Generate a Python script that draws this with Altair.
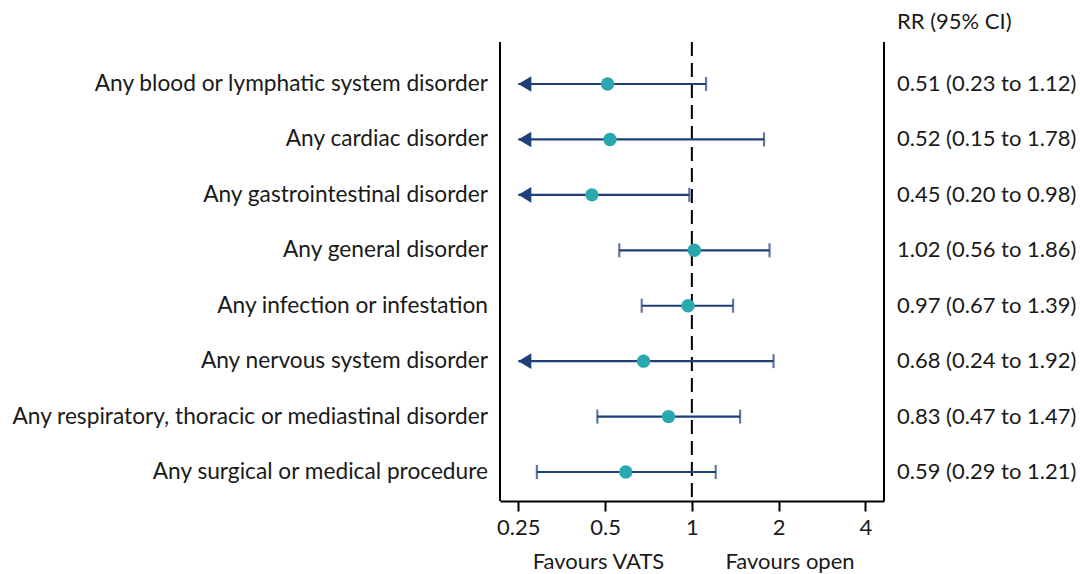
import altair as alt
import pandas as pd

labels = [
    "Any blood or lymphatic system disorder",
    "Any cardiac disorder",
    "Any gastrointestinal disorder",
    "Any general disorder",
    "Any infection or infestation",
    "Any nervous system disorder",
    "Any respiratory, thoracic or mediastinal disorder",
    "Any surgical or medical procedure",
]
rr = [0.51, 0.52, 0.45, 1.02, 0.97, 0.68, 0.83, 0.59]
lo = [0.23, 0.15, 0.20, 0.56, 0.67, 0.24, 0.47, 0.29]
hi = [1.12, 1.78, 0.98, 1.86, 1.39, 1.92, 1.47, 1.21]
rr_text = [
    "0.51 (0.23 to 1.12)",
    "0.52 (0.15 to 1.78)",
    "0.45 (0.20 to 0.98)",
    "1.02 (0.56 to 1.86)",
    "0.97 (0.67 to 1.39)",
    "0.68 (0.24 to 1.92)",
    "0.83 (0.47 to 1.47)",
    "0.59 (0.29 to 1.21)",
]
x_ticks = [0.25, 0.5, 1, 2, 4]
clip_at = 0.25

FONT = "Lato"
FS = 22
FS_LAB = 22.7
W, H = 384, 459
LINE = "#1f3f78"
DOT = "#2aa8b0"
TXT = "#1a1a1a"

df = pd.DataFrame({
    "row": list(range(1, len(labels) + 1)),
    "label": labels,
    "rr": rr,
    "lo": lo,
    "hi": hi,
    "txt": rr_text,
})
df["lo_draw"] = df["lo"].clip(lower=clip_at)
df["clipped"] = df["lo"] < clip_at

xs = alt.Scale(type="log", base=2, domain=[0.216, 4.64], nice=False, zero=False)
ys = alt.Scale(domain=[0.242, 8.523], reverse=True, nice=False, zero=False)

base = alt.Chart(df)
yenc = alt.Y("row:Q", scale=ys, axis=None)

ci = base.mark_rule(color=LINE, strokeWidth=2.2).encode(
    x=alt.X("lo_draw:Q", scale=xs,
            axis=alt.Axis(values=x_ticks, labelExpr="datum.value == 0.25 ? '0.25' : datum.value == 0.5 ? '0.5' : format(datum.value, 'd')",
                          title=None, grid=False, domain=True, domainColor="black", domainWidth=2,
                          ticks=True, tickColor="black", tickWidth=2, tickSize=10,
                          labelFont=FONT, labelFontSize=FS, labelColor=TXT, labelPadding=6)),
    x2="hi:Q",
    y=yenc,
)

cap_hi = base.mark_tick(orient="vertical", color=LINE, thickness=2.2, size=14).encode(
    x=alt.X("hi:Q", scale=xs), y=yenc)
cap_lo = base.transform_filter("!datum.clipped").mark_tick(
    orient="vertical", color=LINE, thickness=2.2, size=14).encode(
    x=alt.X("lo:Q", scale=xs), y=yenc)
arrows = base.transform_filter("datum.clipped").mark_point(
    shape="M0,0 L1,-0.6 L1,0.6 Z", filled=True, color=LINE, opacity=1, size=676).encode(
    x=alt.X("lo_draw:Q", scale=xs), y=yenc)

ref = alt.Chart(pd.DataFrame({"v": [1]})).mark_rule(
    color="black", strokeWidth=2, strokeDash=[14, 7]).encode(
    x=alt.X("v:Q", scale=xs), y=alt.value(0), y2=alt.value(H))

dots = base.mark_circle(color=DOT, opacity=1, size=180).encode(
    x=alt.X("rr:Q", scale=xs), y=yenc)

left_lab = base.mark_text(align="right", baseline="middle", font=FONT, fontSize=FS_LAB, color=TXT).encode(
    x=alt.value(-12), y=yenc, text="label:N")
right_lab = base.mark_text(align="left", baseline="middle", font=FONT, fontSize=FS, color=TXT).encode(
    x=alt.value(397), y=yenc, text="txt:N")

hdr = alt.Chart(pd.DataFrame({"t": ["RR (95% CI)"]})).mark_text(
    align="left", baseline="middle", font=FONT, fontSize=FS, color=TXT).encode(
    x=alt.value(397), y=alt.value(-20), text="t:N")

fav = alt.Chart(pd.DataFrame({"t": ["Favours VATS", "Favours open"], "px": [98.5, 290]})).mark_text(
    align="center", baseline="middle", font=FONT, fontSize=FS, color=TXT).encode(
    x=alt.X("px:Q", scale=None), y=alt.value(H + 61), text="t:N")

frame = alt.Chart(pd.DataFrame({"px": [0, W]})).mark_rule(color="black", strokeWidth=2).encode(
    x=alt.X("px:Q", scale=None), y=alt.value(0), y2=alt.value(H))

chart = alt.layer(frame, ref, ci, cap_hi, cap_lo, arrows, dots, left_lab, right_lab, hdr, fav).properties(
    width=W, height=H,
    autosize=alt.AutoSizeParams(type="none"),
    padding={"left": 500, "top": 42, "right": 196, "bottom": 73},
).configure(background="white").configure_view(stroke=None)

chart.save("out.html", embed_options={"renderer": "svg", "actions": False})
